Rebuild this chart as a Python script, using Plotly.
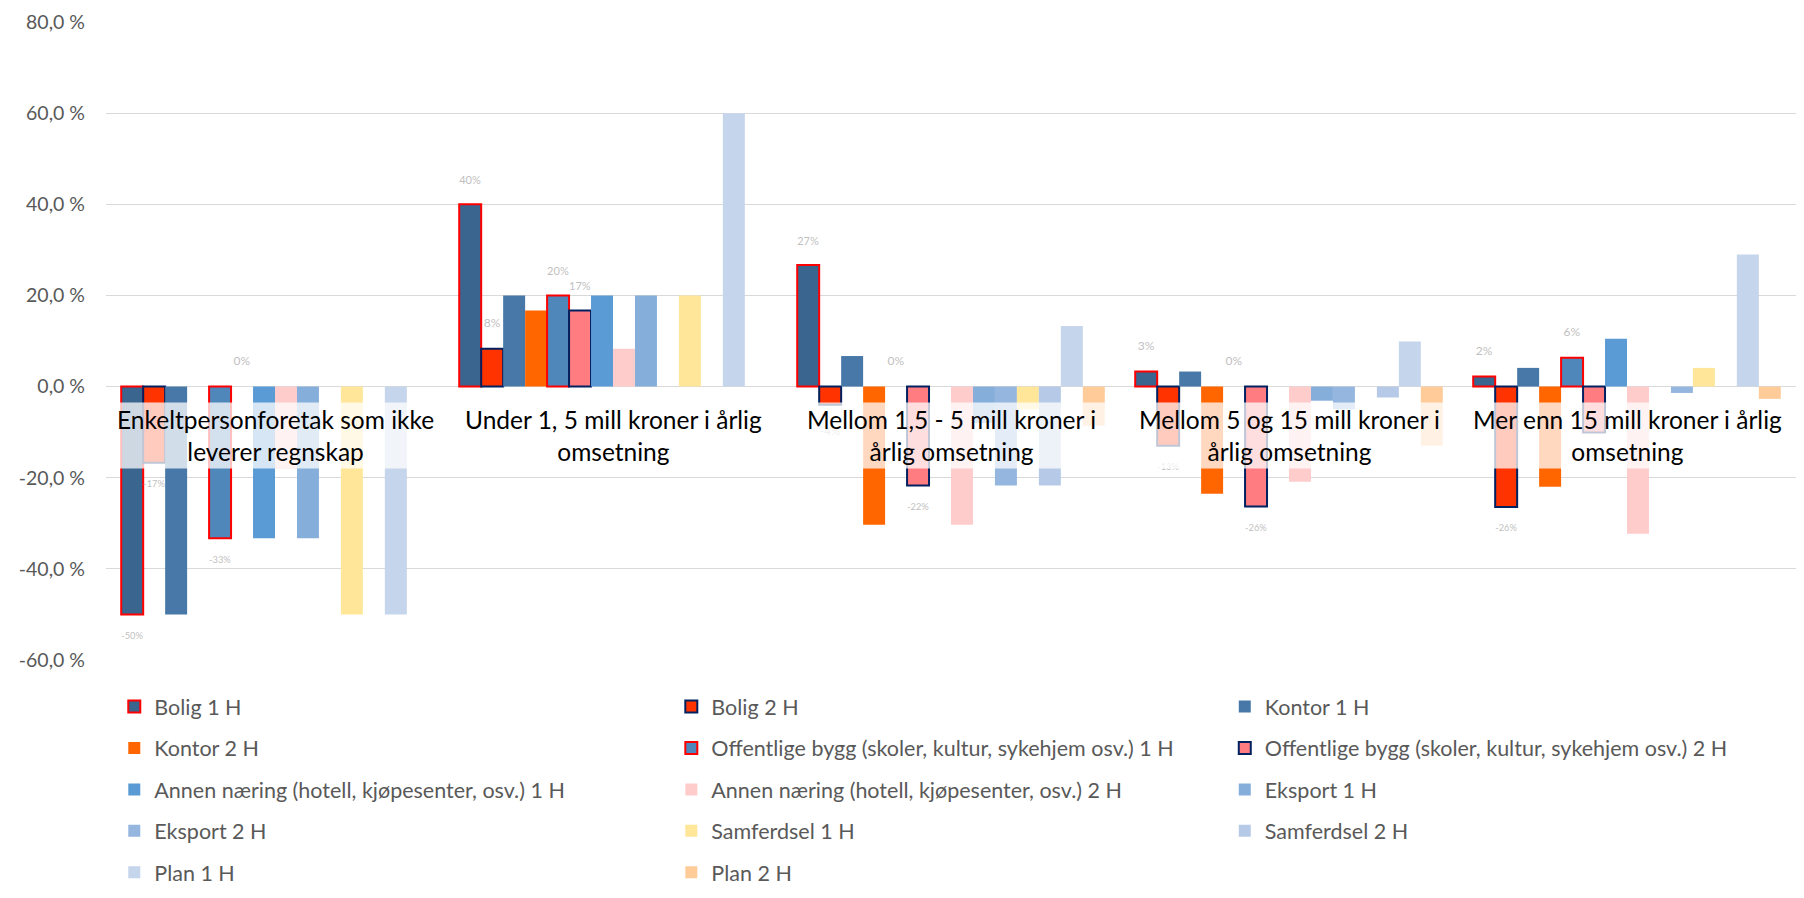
import plotly.graph_objects as go

categories = [
    "Enkeltpersonforetak som ikke<br>leverer regnskap",
    "Under 1, 5 mill kroner i årlig<br>omsetning",
    "Mellom 1,5 - 5 mill kroner i<br>årlig omsetning",
    "Mellom 5 og 15 mill kroner i<br>årlig omsetning",
    "Mer enn 15 mill kroner i årlig<br>omsetning",
]
cat_ids = ["c1", "c2", "c3", "c4", "c5"]

bolig_1h = [-50.0, 40.0, 26.7, 3.3, 2.2]
bolig_2h = [-16.7, 8.3, -4.0, -13.0, -26.4]
kontor_1h = [-50.0, 20.0, 6.7, 3.3, 4.1]
kontor_2h = [0.0, 16.7, -30.3, -23.5, -22.0]
offentlige_1h = [-33.3, 20.0, 0.0, 0.0, 6.3]
offentlige_2h = [0.0, 16.7, -21.7, -26.3, -10.1]
annen_1h = [-33.3, 20.0, 0.0, 0.0, 10.5]
annen_2h = [-18.0, 8.3, -30.3, -20.9, -32.3]
eksport_1h = [-33.3, 20.0, -8.0, -3.1, 0.0]
eksport_2h = [0.0, 0.0, -21.7, -5.0, -1.4]
samferdsel_1h = [-50.0, 20.0, -5.0, 0.0, 4.1]
samferdsel_2h = [0.0, 0.0, -21.7, -2.4, 0.0]
plan_1h = [-50.0, 60.0, 13.3, 9.9, 29.0]
plan_2h = [0.0, 0.0, -8.6, -13.0, -2.7]

y_tickvals = [-60, -40, -20, 0, 20, 40, 60, 80]
y_ticktext = ["-60,0 %", "-40,0 %", "-20,0 %", "0,0 %", "20,0 %", "40,0 %", "60,0 %", "80,0 %"]

# name, values, fill, border colour, border width, show labels, legend column
series = [
    ("Bolig 1 H", bolig_1h, "#3A658F", "#FF0000", 2, True, "legend"),
    ("Bolig 2 H", bolig_2h, "#FF3300", "#002060", 2, True, "legend2"),
    ("Kontor 1 H", kontor_1h, "#4878A8", None, 0, False, "legend3"),
    ("Kontor 2 H", kontor_2h, "#FF6600", None, 0, False, "legend"),
    ("Offentlige bygg (skoler, kultur, sykehjem osv.) 1 H", offentlige_1h, "#4F87BA", "#FF0000", 2, True, "legend2"),
    ("Offentlige bygg (skoler, kultur, sykehjem osv.) 2 H", offentlige_2h, "#FF7C80", "#002060", 2, True, "legend3"),
    ("Annen næring (hotell, kjøpesenter, osv.) 1 H", annen_1h, "#5B9BD5", None, 0, False, "legend"),
    ("Annen næring (hotell, kjøpesenter, osv.) 2 H", annen_2h, "#FFCCCC", None, 0, False, "legend2"),
    ("Eksport 1 H", eksport_1h, "#86AEDB", None, 0, False, "legend3"),
    ("Eksport 2 H", eksport_2h, "#95B6DF", None, 0, False, "legend"),
    ("Samferdsel 1 H", samferdsel_1h, "#FFE699", None, 0, False, "legend2"),
    ("Samferdsel 2 H", samferdsel_2h, "#B6CAE8", None, 0, False, "legend3"),
    ("Plan 1 H", plan_1h, "#C5D5EB", None, 0, False, "legend"),
    ("Plan 2 H", plan_2h, "#FFCC99", None, 0, False, "legend2"),
]

FONT = "Lato, 'Open Sans', sans-serif"

fig = go.Figure()
for i, (name, vals, fill, border, bw, labels, leg) in enumerate(series):
    # start the point list at the first non-zero value so the legend swatch
    # keeps the series' outline (categories stay in their fixed order)
    k = next((j for j, v in enumerate(vals) if v != 0), 0)
    xs = cat_ids[k:] + cat_ids[:k]
    ys = vals[k:] + vals[:k]
    kw = {}
    if labels:
        txt = []
        for v in ys:
            s = f"{v:.0f}%"
            txt.append(s + "<br>\u00a0" if v >= 0 else "\u00a0<br>" + s)
        kw = dict(
            text=txt,
            texttemplate="%{text}",
            textposition="outside",
            textfont=dict(size=12, color="#BFBFBF", family=FONT),
            cliponaxis=False,
        )
    widths = [bw if v != 0 else 0 for v in ys]
    fig.add_trace(go.Bar(
        name=name,
        x=xs,
        y=ys,
        marker=dict(color=fill,
                    line=dict(color=border if border else fill, width=widths)),
        legend=leg,
        legendgroup=f"g{i}",
        **kw,
    ))

# semi-transparent background behind the category labels
fig.add_shape(type="rect", xref="paper", yref="y", x0=0, x1=1, y0=-3.5, y1=-18.0,
              fillcolor="rgba(255,255,255,0.75)", line=dict(width=0), layer="above")

for cid, label in zip(cat_ids, categories):
    fig.add_annotation(x=cid, y=-10.8, xref="x", yref="y", text=label, showarrow=False,
                       font=dict(size=24.5, color="#000000", family=FONT),
                       xanchor="center", yanchor="middle", align="center")

leg_common = dict(orientation="v", xanchor="left", yanchor="top", y=-0.0408,
                  font=dict(size=21.5, color="#595959", family=FONT),
                  bgcolor="rgba(0,0,0,0)", tracegroupgap=10.5, traceorder="grouped")

# the page body adds an 8px margin, so the figure is sized to fit inside it
fig.update_layout(
    width=1788, height=882,
    margin=dict(l=98, r=0, t=14, b=230, autoexpand=False),
    paper_bgcolor="white", plot_bgcolor="white",
    font=dict(family=FONT),
    barmode="group", bargap=0.09, bargroupgap=0,
    showlegend=True,
    legend=dict(x=0.0049, **leg_common),
    legend2=dict(x=0.3345, **leg_common),
    legend3=dict(x=0.6620, **leg_common),
    xaxis=dict(type="category", categoryorder="array", categoryarray=cat_ids,
               showticklabels=False, showgrid=False, zeroline=False,
               showline=False, ticks=""),
    yaxis=dict(range=[-60, 80], tickvals=y_tickvals, ticktext=y_ticktext,
               showgrid=True, gridcolor="#D9D9D9", gridwidth=1,
               zeroline=True, zerolinecolor="#D9D9D9", zerolinewidth=1,
               showline=False, ticks="", ticklabelstandoff=20,
               tickfont=dict(size=19.5, color="#595959", family=FONT)),
)

fig.write_html("out.html")
